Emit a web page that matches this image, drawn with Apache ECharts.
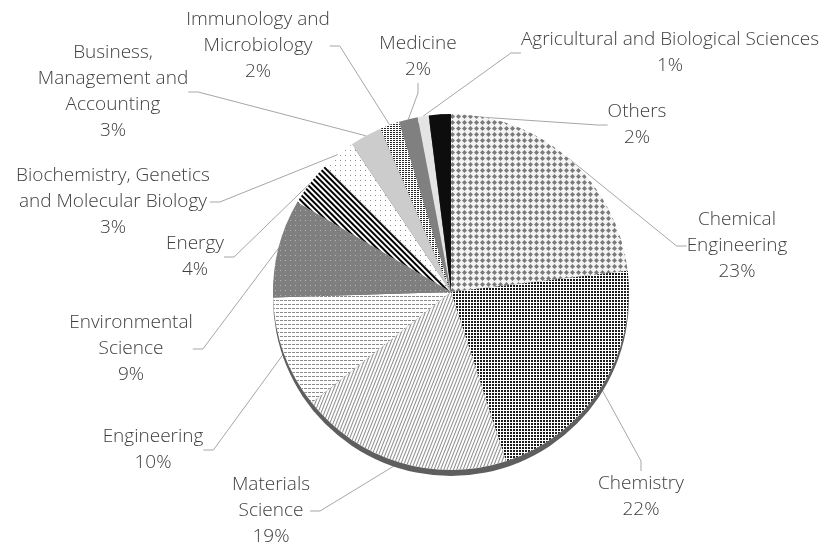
<!DOCTYPE html>
<html>
<head>
<meta charset="utf-8">
<script src="https://cdn.jsdelivr.net/npm/echarts@6/dist/echarts.min.js"></script>
<style>
  html, body { margin: 0; padding: 0; background: #fff; }
  #chart { width: 827px; height: 546px; }
</style>
</head>
<body>
<div id="chart"></div>
<script>
// subject areas, clockwise from 12 o'clock
const categories = [
  'Chemical\nEngineering',
  'Chemistry',
  'Materials\nScience',
  'Engineering',
  'Environmental\nScience',
  'Energy',
  'Biochemistry, Genetics\nand Molecular Biology',
  'Business,\nManagement and\nAccounting',
  'Immunology and\nMicrobiology',
  'Medicine',
  'Agricultural and Biological Sciences',
  'Others'
]
// share of documents (%)
const shares = [23.1, 21.9, 19.3, 10.2, 8.9, 4.1, 3.1, 2.9, 1.8, 1.7, 1.0, 2.0]

// where each data label sits (text centre), like the excel layout
const labelPos = [
  [737, 246], [641, 497], [271, 511], [153, 450], [131, 349], [195, 257],
  [113, 202], [113, 92], [258, 46], [418, 57], [670, 53], [637, 125]
]

// fill + pattern for each slice (excel style b/w patterns)
const fills = [
  { color: '#f4f4f4', decal: { symbol: 'diamond', color: '#7a7a7a', dashArrayX: [5, 1], dashArrayY: [5, 1], symbolSize: 1 } },
  { color: '#ffffff', decal: { symbol: 'rect', color: '#1a1a1a', dashArrayX: [2, 1], dashArrayY: [2, 1], symbolSize: 1 } },
  { color: '#ffffff', decal: { symbol: 'rect', color: '#8c8c8c', dashArrayX: [[1, 0]], dashArrayY: [1, 2], rotation: -Math.PI * 0.38, symbolSize: 1 } },
  { color: '#ffffff', decal: { symbol: 'rect', color: '#8c8c8c', dashArrayX: [3, 1], dashArrayY: [1, 3], symbolSize: 1 } },
  { color: '#7f7f7f', decal: { symbol: 'rect', color: '#b5b5b5', dashArrayX: [1, 4], dashArrayY: [1, 4], symbolSize: 1 } },
  { color: '#ffffff', decal: { symbol: 'rect', color: '#000000', dashArrayX: [[1, 0]], dashArrayY: [2, 2], rotation: Math.PI / 4, symbolSize: 1 } },
  { color: '#ffffff', decal: { symbol: 'rect', color: '#8c8c8c', dashArrayX: [1, 4], dashArrayY: [1, 4], symbolSize: 1 } },
  { color: '#cccccc', decal: { symbol: 'none' } },
  { color: '#ffffff', decal: { symbol: 'rect', color: '#262626', dashArrayX: [2, 1], dashArrayY: [1, 1], symbolSize: 1 } },
  { color: '#808080', decal: { symbol: 'none' } },
  { color: '#e4e4e4', decal: { symbol: 'none' } },
  { color: '#0d0d0d', decal: { symbol: 'none' } }
]

const chart = echarts.init(document.getElementById('chart'), null, { renderer: 'canvas' })

chart.setOption({
  animation: false,
  textStyle: { fontFamily: "'Open Sans', sans-serif" },
  series: [
    {
      // bottom edge of the 3d pie
      type: 'pie',
      silent: true,
      center: [451, 298],
      radius: 178,
      label: { show: false },
      labelLine: { show: false },
      data: [{ value: 1, itemStyle: { color: '#5e5e5e' } }]
    },
    {
      type: 'pie',
      center: [451, 292],
      radius: 178,
      startAngle: 90,
      clockwise: true,
      avoidLabelOverlap: false,
      data: categories.map((name, i) => ({
        name: name,
        value: shares[i],
        itemStyle: { color: fills[i].color, decal: fills[i].decal }
      })),
      itemStyle: { borderWidth: 0 },
      label: {
        show: true,
        position: 'outside',
        color: '#404040',
        fontSize: 19,
        fontWeight: 300,
        lineHeight: 26,
        align: 'center',
        formatter: p => p.name + '\n' + Math.round(p.percent) + '%'
      },
      labelLine: {
        show: true,
        length: 10,
        length2: 10,
        lineStyle: { color: '#a6a6a6', width: 1 }
      },
      labelLayout: p => ({
        x: labelPos[p.dataIndex][0],
        y: labelPos[p.dataIndex][1],
        align: 'center',
        verticalAlign: 'middle'
      }),
      emphasis: { disabled: true }
    }
  ]
})
</script>
</body>
</html>
